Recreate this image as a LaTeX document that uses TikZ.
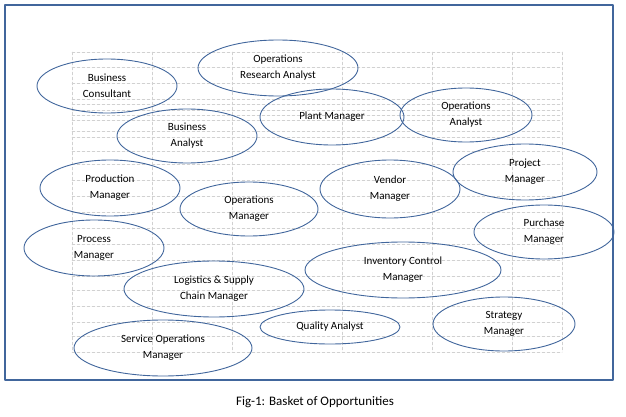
\documentclass[tikz,border=0pt]{standalone}
\usepackage{fontspec}
\setmainfont{Carlito}
\usetikzlibrary{positioning,shapes.geometric}
\definecolor{rim}{HTML}{41669C}
\begin{document}
\begin{tikzpicture}[x=1pt,y=-1pt, font=\fontsize{11}{16}\selectfont, line cap=round, line join=round]
				\useasboundingbox (0,0) rectangle (626,417);
				% ===== grid in the background =====
				\foreach \y in {52,67,83,99,104,110,115,120,131,137,151,164,180,196,212,228,244,260,276,290,306,322,336,352}{
					\draw[densely dashed, black!18, line width=0.3pt] (72,\y) -- (562,\y);
				}
				\foreach \x in {72,152,232,342,432,512,562}{
					\draw[densely dashed, black!18, line width=0.3pt] (\x,52) -- (\x,352);
				}
				
				% ===== frame =====
				\draw[rim, line width=1.6pt] (5,5) rectangle (613,380);
				
				% ===== style for ellipses =====
				\tikzset{job/.style={ellipse, draw=rim, line width=0.9pt, align=center, inner sep=0pt}}
				
				% ===== the roles =====
				\node[job, minimum width=140, minimum height=54] (bc) at (107,86) {Business\\Consultant};
				\node[job, minimum width=160, minimum height=56] (ora) at (278,68) {Operations\\Research Analyst};
				\node[job, minimum width=144, minimum height=56] (pm) at (332,117) {Plant Manager};
				\node[job, minimum width=132, minimum height=54] (oa) at (466,115) {Operations\\Analyst};
				\node[job, minimum width=140, minimum height=54] (ba) at (187,136) {Business\\Analyst};
				\node[job, minimum width=140, minimum height=56] (prod) at (110,188) {Production\\Manager};
				\node[job, minimum width=144, minimum height=56] (proj) at (525,172) {Project\\Manager};
				\node[job, minimum width=140, minimum height=58] (vm) at (390,189) {Vendor\\Manager};
				\node[job, minimum width=138, minimum height=54] (om) at (249,209) {Operations\\Manager};
				\node[job, minimum width=140, minimum height=54] (pur) at (544,232) {Purchase\\Manager};
				\node[job, minimum width=140, minimum height=56] (proc) at (94,248) {Process\\Manager};
				\node[job, minimum width=196, minimum height=56] (icm) at (403,270) {Inventory Control\\Manager};
				\node[job, minimum width=180, minimum height=56] (lsc) at (214,289) {Logistics \& Supply\\Chain Manager};
				\node[job, minimum width=140, minimum height=34] (qa) at (330,327) {Quality Analyst};
				\node[job, minimum width=142, minimum height=54] (sm) at (504,324) {Strategy\\Manager};
				\node[job, minimum width=178, minimum height=56] (som) at (163,348) {Service Operations\\Manager};
				
				% ===== caption =====
				\node[font=\fontsize{13}{16}\selectfont] (cap) at (315,402) {Fig-1: Basket of Opportunities};
			\end{tikzpicture}
\end{document}
